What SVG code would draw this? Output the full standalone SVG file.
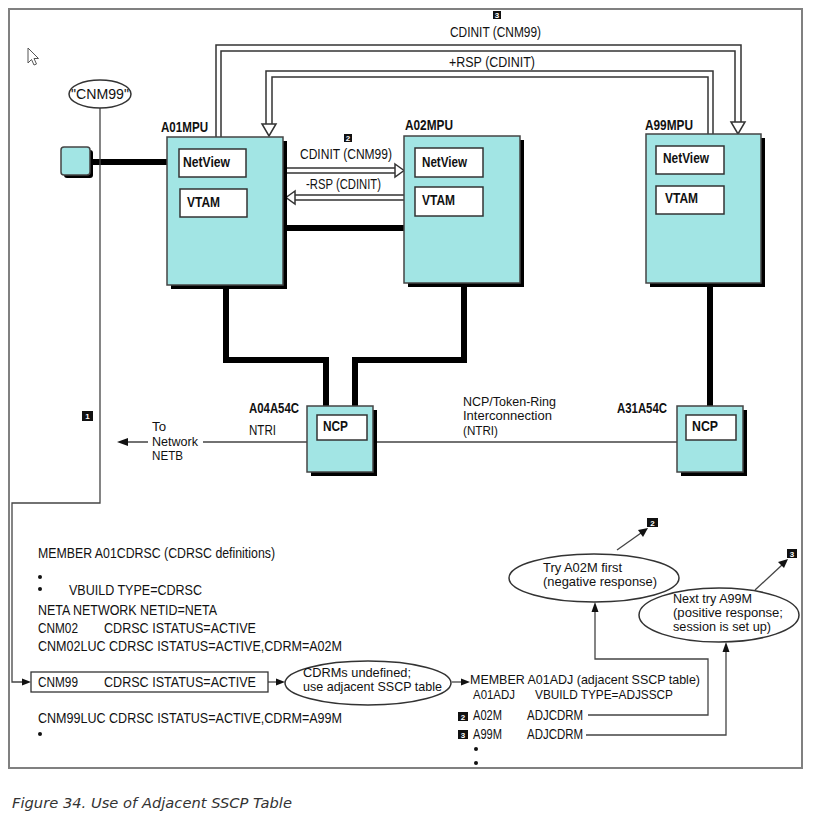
<svg xmlns="http://www.w3.org/2000/svg" width="826" height="819" viewBox="0 0 826 819">
<defs>
<style>
.t{font-family:"Liberation Sans",Arial,sans-serif;font-size:15px;fill:#111}
.s{font-size:13px}
.b{font-weight:bold;font-size:14px}
.box{fill:#a2e5e4;stroke:#444;stroke-width:1.5}
.sh{fill:#000}
.in{fill:#fff;stroke:#333;stroke-width:1.5}
.thick{stroke:#000;stroke-width:6;fill:none;stroke-linejoin:miter}
.thin{stroke:#444;stroke-width:1.3;fill:none}
.dl{stroke:#333;stroke-width:1.5;fill:none}
.hh{fill:#fff;stroke:#333;stroke-width:1.5}
.ah{fill:#111}
.mk{fill:#111}
.mt{font-family:"Liberation Sans",Arial,sans-serif;font-size:8px;font-weight:bold;fill:#fff;text-anchor:middle}
.el{fill:#fff;stroke:#333;stroke-width:1.5}
</style>
</defs>
<rect width="826" height="819" fill="#fff"/>
<rect x="9" y="9" width="793" height="759" fill="none" stroke="#808080" stroke-width="2"/>
<!-- cursor -->
<polygon points="28,48 28,63 31.5,59.5 34,65 36.5,64 34,58.5 38.5,58.5" fill="#fff" stroke="#555" stroke-width="1"/>

<g id="connectors">
  <path class="dl" d="M216,137 V45 H741 V122"/>
  <path class="dl" d="M221,137 V51 H735 V122"/>
  <polygon class="hh" points="731,122 745,122 738,134"/>
  <path class="dl" d="M713,134 V71 H266 V124"/>
  <path class="dl" d="M708,134 V77 H272 V124"/>
  <polygon class="hh" points="262,124 276,124 269,136"/>
  <path class="dl" d="M287,168 H396 M287,173 H396"/>
  <polygon class="hh" points="395,164 404,170.5 395,177"/>
  <path class="dl" d="M404,195 H294 M404,200 H294"/>
  <polygon class="hh" points="295,191 286,197.5 295,204"/>
  <line class="thick" x1="90" y1="162" x2="167" y2="162" stroke-width="7"/>
  <line class="thick" x1="287" y1="228" x2="404" y2="228"/>
  <path class="thick" d="M226,289 V360 H326 V406"/>
  <path class="thick" d="M464,287 V360 H355 V406"/>
  <path class="thick" d="M710,287 V406"/>
  <path class="thin" d="M126,442 H148 M203,442 H307 M377,442 H677"/>
  <polygon class="ah" points="117,442 128,438 128,446"/>
  <path class="thin" d="M100,108 V503 H12 V682 H24"/>
  <polygon class="ah" points="31,682 22,678.5 22,685.5"/>
  <path class="thin" d="M268,682 H278"/>
  <polygon class="ah" points="285,682 276,678.5 276,685.5"/>
  <path class="thin" d="M452,682 H463"/>
  <polygon class="ah" points="470,682 461,678.5 461,685.5"/>
  <path class="thin" d="M588,715 H708 V659 H595 V611"/>
  <polygon class="ah" points="595,602 591.5,612 598.5,612"/>
  <path class="thin" d="M586,735 H726 V651"/>
  <polygon class="ah" points="726,642 722.5,652 729.5,652"/>
  <line class="thin" x1="617" y1="550" x2="641" y2="533"/>
  <polygon class="ah" points="648,528 638,530 643,537"/>
  <line class="thin" x1="755" y1="590" x2="782" y2="565"/>
  <polygon class="ah" points="788,559 778,562 784,568"/>
</g>

<g id="cnm99-label">
  <ellipse class="el" cx="100" cy="94" rx="31" ry="14"/>
  <text class="t" x="71" y="99" textLength="58" lengthAdjust="spacingAndGlyphs">"CNM99"</text>
</g>

<g id="terminal">
  <rect class="sh" x="64" y="150" width="29" height="28" rx="3"/>
  <rect class="box" x="61" y="147" width="29" height="28" rx="3"/>
</g>

<g id="A01MPU">
  <text class="t b" x="161" y="132" textLength="47" lengthAdjust="spacingAndGlyphs">A01MPU</text>
  <rect class="sh" x="171" y="141" width="116" height="148"/>
  <rect class="box" x="167" y="137" width="116" height="148"/>
  <rect class="in" x="179" y="149" width="67" height="28"/>
  <text class="t b" x="183" y="167" textLength="47" lengthAdjust="spacingAndGlyphs">NetView</text>
  <rect class="in" x="180" y="189" width="67" height="28"/>
  <text class="t b" x="187" y="207" textLength="33" lengthAdjust="spacingAndGlyphs">VTAM</text>
</g>

<g id="A02MPU">
  <text class="t b" x="405" y="130" textLength="48" lengthAdjust="spacingAndGlyphs">A02MPU</text>
  <rect class="sh" x="408" y="140" width="116" height="147"/>
  <rect class="box" x="404" y="136" width="116" height="147"/>
  <rect class="in" x="415" y="148" width="68" height="29"/>
  <text class="t b" x="422" y="167" textLength="45" lengthAdjust="spacingAndGlyphs">NetView</text>
  <rect class="in" x="415" y="187" width="68" height="29"/>
  <text class="t b" x="422" y="205" textLength="33" lengthAdjust="spacingAndGlyphs">VTAM</text>
</g>

<g id="A99MPU">
  <text class="t b" x="645" y="130" textLength="48" lengthAdjust="spacingAndGlyphs">A99MPU</text>
  <rect class="sh" x="650" y="138" width="115" height="149"/>
  <rect class="box" x="646" y="134" width="115" height="149"/>
  <rect class="in" x="656" y="146" width="68" height="28"/>
  <text class="t b" x="663" y="163" textLength="46" lengthAdjust="spacingAndGlyphs">NetView</text>
  <rect class="in" x="656" y="186" width="68" height="28"/>
  <text class="t b" x="665" y="203" textLength="33" lengthAdjust="spacingAndGlyphs">VTAM</text>
</g>

<g id="A04A54C">
  <text class="t b" x="249" y="413" textLength="50" lengthAdjust="spacingAndGlyphs">A04A54C</text>
  <text class="t" x="249" y="435" textLength="27" lengthAdjust="spacingAndGlyphs">NTRI</text>
  <rect class="sh" x="311" y="410" width="66" height="66"/>
  <rect class="box" x="307" y="406" width="66" height="66"/>
  <rect class="in" x="317" y="415" width="50" height="25"/>
  <text class="t b" x="323" y="431" textLength="25" lengthAdjust="spacingAndGlyphs">NCP</text>
</g>

<g id="A31A54C">
  <text class="t b" x="617" y="413" textLength="50" lengthAdjust="spacingAndGlyphs">A31A54C</text>
  <rect class="sh" x="681" y="410" width="66" height="66"/>
  <rect class="box" x="677" y="406" width="66" height="66"/>
  <rect class="in" x="686" y="415" width="50" height="25"/>
  <text class="t b" x="692" y="431" textLength="26" lengthAdjust="spacingAndGlyphs">NCP</text>
</g>

<g id="labels">
  <rect class="mk" x="493" y="11" width="8" height="8"/><text class="mt" x="497" y="18">3</text>
  <text class="t" x="450" y="37" textLength="91" lengthAdjust="spacingAndGlyphs">CDINIT (CNM99)</text>
  <text class="t" x="449" y="67" textLength="86" lengthAdjust="spacingAndGlyphs">+RSP  (CDINIT)</text>
  <rect class="mk" x="344" y="134" width="8" height="8"/><text class="mt" x="348" y="141">2</text>
  <text class="t" x="300" y="159" textLength="92" lengthAdjust="spacingAndGlyphs">CDINIT (CNM99)</text>
  <text class="t" x="306" y="189" textLength="75" lengthAdjust="spacingAndGlyphs">-RSP (CDINIT)</text>
  <rect class="mk" x="82" y="411" width="11" height="10"/><text class="mt" x="87.5" y="419">1</text>
  <text class="t s" x="152" y="431" textLength="14" lengthAdjust="spacingAndGlyphs">To</text>
  <text class="t s" x="152" y="446" textLength="46" lengthAdjust="spacingAndGlyphs">Network</text>
  <text class="t s" x="152" y="460" textLength="31" lengthAdjust="spacingAndGlyphs">NETB</text>
  <text class="t s" x="463" y="406" textLength="93" lengthAdjust="spacingAndGlyphs">NCP/Token-Ring</text>
  <text class="t s" x="463" y="420" textLength="89" lengthAdjust="spacingAndGlyphs">Interconnection</text>
  <text class="t s" x="463" y="435" textLength="35" lengthAdjust="spacingAndGlyphs">(NTRI)</text>
</g>

<g id="cdrsc-member">
  <text class="t" x="38" y="558" textLength="237" lengthAdjust="spacingAndGlyphs">MEMBER A01CDRSC (CDRSC definitions)</text>
  <circle cx="40" cy="577" r="2" fill="#111"/>
  <circle cx="40" cy="589" r="2" fill="#111"/>
  <text class="t" x="69" y="595" textLength="133" lengthAdjust="spacingAndGlyphs">VBUILD  TYPE=CDRSC</text>
  <text class="t" x="38" y="615" textLength="179" lengthAdjust="spacingAndGlyphs">NETA NETWORK NETID=NETA</text>
  <text class="t" x="38" y="633" textLength="40" lengthAdjust="spacingAndGlyphs">CNM02</text>
  <text class="t" x="104" y="633" textLength="152" lengthAdjust="spacingAndGlyphs">CDRSC  ISTATUS=ACTIVE</text>
  <text class="t" x="38" y="651" textLength="304" lengthAdjust="spacingAndGlyphs">CNM02LUC  CDRSC  ISTATUS=ACTIVE,CDRM=A02M</text>
  <text class="t" x="38" y="723" textLength="304" lengthAdjust="spacingAndGlyphs">CNM99LUC  CDRSC  ISTATUS=ACTIVE,CDRM=A99M</text>
  <circle cx="40" cy="734" r="2" fill="#111"/>
</g>

<g id="cnm99-entry">
  <rect x="31" y="672" width="237" height="20" fill="#fff" stroke="#333" stroke-width="1.3"/>
  <text class="t" x="38" y="687" textLength="40" lengthAdjust="spacingAndGlyphs">CNM99</text>
  <text class="t" x="104" y="687" textLength="152" lengthAdjust="spacingAndGlyphs">CDRSC  ISTATUS=ACTIVE</text>
</g>

<g id="cdrms-undefined">
  <ellipse class="el" cx="368" cy="683" rx="83" ry="22"/>
  <text class="t s" x="303" y="677" textLength="108" lengthAdjust="spacingAndGlyphs">CDRMs  undefined;</text>
  <text class="t s" x="303" y="691" textLength="139" lengthAdjust="spacingAndGlyphs">use adjacent SSCP table</text>
</g>

<g id="adj-member">
  <text class="t s" x="470" y="684" textLength="230" lengthAdjust="spacingAndGlyphs">MEMBER  A01ADJ  (adjacent  SSCP  table)</text>
  <text class="t s" x="473" y="699" textLength="42" lengthAdjust="spacingAndGlyphs">A01ADJ</text>
  <text class="t s" x="535" y="699" textLength="138" lengthAdjust="spacingAndGlyphs">VBUILD TYPE=ADJSSCP</text>
  <rect class="mk" x="458" y="712" width="10" height="9"/><text class="mt" x="463" y="719.5">2</text>
  <text class="t" x="473" y="720" textLength="29" lengthAdjust="spacingAndGlyphs">A02M</text>
  <text class="t" x="527" y="720" textLength="56" lengthAdjust="spacingAndGlyphs">ADJCDRM</text>
  <rect class="mk" x="458" y="730" width="10" height="9"/><text class="mt" x="463" y="737.5">3</text>
  <text class="t" x="473" y="739" textLength="29" lengthAdjust="spacingAndGlyphs">A99M</text>
  <text class="t" x="527" y="739" textLength="56" lengthAdjust="spacingAndGlyphs">ADJCDRM</text>
  <circle cx="476" cy="749" r="2" fill="#111"/>
  <circle cx="476" cy="763" r="2" fill="#111"/>
</g>

<g id="try-a02m">
  <ellipse class="el" cx="594" cy="578" rx="85" ry="24"/>
  <text class="t s" x="543" y="572" textLength="79" lengthAdjust="spacingAndGlyphs">Try  A02M  first</text>
  <text class="t s" x="543" y="586" textLength="114" lengthAdjust="spacingAndGlyphs">(negative  response)</text>
  <rect class="mk" x="647" y="518" width="11" height="9"/><text class="mt" x="652.5" y="525.5">2</text>
</g>

<g id="try-a99m">
  <ellipse class="el" cx="719" cy="615" rx="80" ry="27"/>
  <text class="t s" x="673" y="603" textLength="79" lengthAdjust="spacingAndGlyphs">Next  try  A99M</text>
  <text class="t s" x="673" y="617" textLength="110" lengthAdjust="spacingAndGlyphs">(positive  response;</text>
  <text class="t s" x="673" y="631" textLength="98" lengthAdjust="spacingAndGlyphs">session  is  set  up)</text>
  <rect class="mk" x="787" y="549" width="10" height="9"/><text class="mt" x="792" y="556.5">3</text>
</g>

<text x="12" y="808" font-family="'DejaVu Sans',Verdana,sans-serif" font-style="italic" font-size="14" fill="#333" textLength="280" lengthAdjust="spacingAndGlyphs">Figure 34. Use of Adjacent SSCP Table</text>
</svg>
